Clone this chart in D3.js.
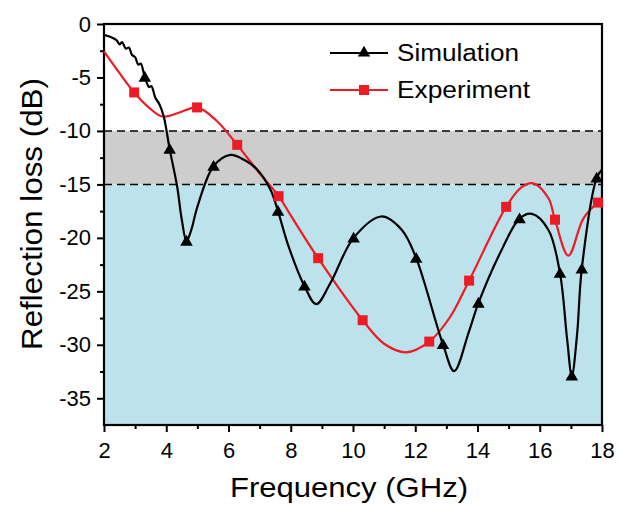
<!DOCTYPE html>
<html>
<head>
<meta charset="utf-8">
<script src="https://cdn.jsdelivr.net/npm/d3@7"></script>
<style>
  body { margin: 0; background: #fff; }
  svg { display: block; font-family: "Liberation Sans", Arial, sans-serif; }
</style>
</head>
<body>
<svg width="619" height="505"></svg>
<script>
// Simulation curve and its marker points
const simFreq = [2.0, 2.2, 2.4, 2.5, 2.58, 2.7, 2.8, 2.9, 3.0, 3.1, 3.18, 3.31, 3.45, 3.52, 3.65, 3.78, 3.92,
  4.11, 4.35, 4.5, 4.65, 4.8, 5.0, 5.52, 6.06, 6.5, 6.92, 7.35, 7.59, 7.93, 8.44, 8.82, 9.27, 10.02,
  10.91, 11.57, 12.03, 12.89, 13.25, 13.71, 14.03, 14.78, 15.35, 15.75, 16.28, 16.65, 16.88, 17.03,
  17.2, 17.35, 17.83, 18.0];
const simLoss = [-1.0, -1.2, -1.5, -1.9, -1.7, -2.3, -2.2, -2.9, -3.1, -3.8, -3.7, -4.96, -5.9, -5.8, -6.9, -7.5, -8.65,
  -11.7, -15.2, -18.3, -20.3, -19.3, -17.1, -13.3, -12.24, -12.7, -13.6, -15.5, -17.5, -20.8, -24.5, -26.2, -24.25, -20.0,
  -18.0, -19.26, -21.9, -29.96, -32.46, -28.9, -26.1, -21.1, -18.2, -17.76, -19.26, -23.3, -29.5, -32.9,
  -29.0, -22.9, -14.4, -13.6];
const simMarkFreq = [3.31, 4.11, 4.65, 5.52, 7.59, 8.44, 10.02, 12.03, 12.89, 14.03, 15.35, 16.65, 17.03, 17.35, 17.83];
const simMarkLoss = [-4.96, -11.7, -20.3, -13.3, -17.5, -24.5, -20.0, -21.9, -29.96, -26.1, -18.2, -23.3, -32.9, -22.9, -14.4];

// Experiment curve and its marker points
const expFreq = [2.0, 2.5, 2.97, 3.4, 3.87, 4.4, 4.99, 5.6, 6.28, 6.95, 7.61, 8.0, 8.88, 10.31, 11.0, 11.71,
  12.45, 13.12, 13.73, 14.92, 15.4, 15.79, 16.28, 16.49, 16.92, 17.4, 17.87, 18.0];
const expLoss = [-2.56, -4.6, -6.4, -7.7, -8.65, -8.3, -7.8, -9.0, -11.3, -13.8, -16.1, -17.9, -21.9, -27.7, -29.9, -30.7,
  -29.7, -27.4, -24.0, -17.1, -15.3, -14.9, -16.3, -18.3, -21.66, -18.2, -16.7, -16.5];
const expMarkFreq = [2.97, 4.99, 6.28, 7.61, 8.88, 10.31, 12.45, 13.73, 14.92, 16.49, 17.87];
const expMarkLoss = [-6.4, -7.8, -11.3, -16.1, -21.9, -27.7, -29.7, -24.0, -17.1, -18.3, -16.7];

const xTicks = [2, 4, 6, 8, 10, 12, 14, 16, 18];
const xMinor = [3, 5, 7, 9, 11, 13, 15, 17];
const yTicks = [0, -5, -10, -15, -20, -25, -30, -35];
const yMinor = [-2.5, -7.5, -12.5, -17.5, -22.5, -27.5, -32.5];
const bands = [[-10, -15], [-15, -37.5]];

const svg = d3.select("svg");
const m = {left: 104, right: 602, top: 24, bottom: 425};
const red = "#ed1c24";

const x = d3.scaleLinear().domain([2, 18]).range([m.left, m.right]);
const y = d3.scaleLinear().domain([-37.5, 0]).range([m.bottom, m.top]);

// shaded bands
svg.append("rect").attr("x", m.left).attr("width", m.right - m.left)
  .attr("y", y(bands[0][0])).attr("height", y(bands[0][1]) - y(bands[0][0]))
  .attr("fill", "#cdcdcd");
svg.append("rect").attr("x", m.left).attr("width", m.right - m.left)
  .attr("y", y(bands[1][0])).attr("height", y(bands[1][1]) - y(bands[1][0]))
  .attr("fill", "#bce3ec");

svg.selectAll(".dash").data([-10, -15]).enter().append("line")
  .attr("x1", m.left).attr("x2", m.right)
  .attr("y1", d => y(d)).attr("y2", d => y(d))
  .attr("stroke", "#000").attr("stroke-width", 1.5).attr("stroke-dasharray", "8,5");

// axes (plain hyphen for negative labels, as in the figure)
const fontSize = 22;
svg.append("g").attr("transform", `translate(0,${m.bottom})`)
  .call(d3.axisBottom(x).tickValues(xTicks).tickSize(7).tickPadding(10).tickFormat(d => String(d)));
svg.append("g").attr("transform", `translate(0,${m.bottom})`)
  .call(d3.axisBottom(x).tickValues(xMinor).tickSize(4).tickFormat(""));
svg.append("g").attr("transform", `translate(${m.left},0)`)
  .call(d3.axisLeft(y).tickValues(yTicks).tickSize(7).tickPadding(6).tickFormat(d => String(d)));
svg.append("g").attr("transform", `translate(${m.left},0)`)
  .call(d3.axisLeft(y).tickValues(yMinor).tickSize(4).tickFormat(""));

svg.selectAll(".domain").remove();
svg.selectAll(".tick line").attr("stroke", "#000").attr("stroke-width", 2);
svg.selectAll(".tick text").attr("fill", "#000")
  .style("font-size", fontSize + "px").style("font-family", "'Liberation Sans', Arial, sans-serif");

// frame
svg.append("rect").attr("x", m.left).attr("y", m.top)
  .attr("width", m.right - m.left).attr("height", m.bottom - m.top)
  .attr("fill", "none").attr("stroke", "#000").attr("stroke-width", 2.2);

// curves
const line = d3.line().curve(d3.curveCatmullRom.alpha(0.5));
const simPts = simFreq.map((f, i) => [x(f), y(simLoss[i])]);
const expPts = expFreq.map((f, i) => [x(f), y(expLoss[i])]);

svg.append("path").attr("d", line(expPts))
  .attr("fill", "none").attr("stroke", red).attr("stroke-width", 2.2);
svg.append("path").attr("d", line(simPts))
  .attr("fill", "none").attr("stroke", "#000").attr("stroke-width", 2.2);

const tri = d3.symbol().type(d3.symbolTriangle).size(68);
const sq = d3.symbol().type(d3.symbolSquare).size(100);

svg.selectAll(".sq").data(expMarkFreq).enter().append("path")
  .attr("d", sq)
  .attr("transform", (d, i) => `translate(${x(d)},${y(expMarkLoss[i])})`)
  .attr("fill", red);
svg.selectAll(".tri").data(simMarkFreq).enter().append("path")
  .attr("d", tri)
  .attr("transform", (d, i) => `translate(${x(d)},${y(simMarkLoss[i]) + 1})`)
  .attr("fill", "#000");

// legend
const legend = svg.append("g");
const rows = [
  {name: "Simulation", color: "#000", sym: tri, y: 53, w: 122},
  {name: "Experiment", color: red, sym: sq, y: 90, w: 133}
];
rows.forEach(r => {
  legend.append("line").attr("x1", 330).attr("x2", 388).attr("y1", r.y).attr("y2", r.y)
    .attr("stroke", r.color).attr("stroke-width", 2.2);
  legend.append("path").attr("d", r.sym).attr("fill", r.color)
    .attr("transform", `translate(364,${r.y})`);
  legend.append("text").attr("x", 397).attr("y", r.y + 8)
    .attr("textLength", r.w).attr("lengthAdjust", "spacingAndGlyphs")
    .style("font-size", "23px").text(r.name);
});

// axis titles
svg.append("text").attr("x", 349).attr("y", 497).attr("text-anchor", "middle")
  .attr("textLength", 238).attr("lengthAdjust", "spacingAndGlyphs")
  .style("font-size", "27px").text("Frequency (GHz)");
svg.append("text").attr("transform", "translate(42,214) rotate(-90)").attr("text-anchor", "middle")
  .attr("textLength", 272).attr("lengthAdjust", "spacingAndGlyphs")
  .style("font-size", "30px").text("Reflection loss (dB)");
</script>
</body>
</html>
